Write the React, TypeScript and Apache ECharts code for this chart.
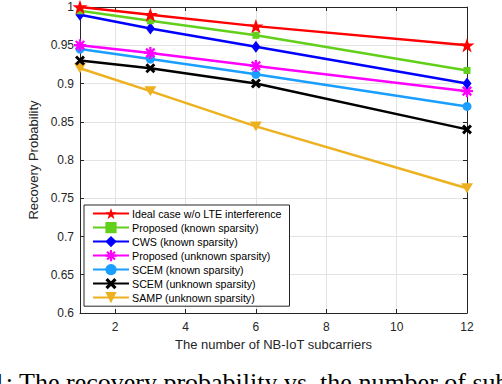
import React, { useEffect, useRef } from "react";
import * as echarts from "echarts";

// ---- data ----
const xValues = [1, 3, 6, 12];
const idealCase = [1.0, 0.99, 0.975, 0.95];
const proposedKnown = [0.995, 0.982, 0.963, 0.917];
const cwsKnown = [0.99, 0.972, 0.948, 0.9];
const proposedUnknown = [0.95, 0.94, 0.923, 0.89];
const scemKnown = [0.945, 0.932, 0.912, 0.87];
const scemUnknown = [0.93, 0.92, 0.9, 0.84];
const sampUnknown = [0.92, 0.89, 0.844, 0.763];

const seriesNames = [
  "Ideal case w/o LTE interference",
  "Proposed (known sparsity)",
  "CWS (known sparsity)",
  "Proposed (unknown sparsity)",
  "SCEM (known sparsity)",
  "SCEM (unknown sparsity)",
  "SAMP (unknown sparsity)",
];
const xTickValues = [2, 4, 6, 8, 10, 12];
const xAxisTitle = "The number of NB-IoT subcarriers";
const yAxisTitle = "Recovery Probability";
const captionText = "1: The recovery probability vs. the number of sub";

// ---- marker shapes ----
function starPath(): string {
  const pts: string[] = [];
  for (let i = 0; i < 10; i++) {
    const r = i % 2 === 0 ? 10 : 3.9;
    const a = -Math.PI / 2 + (i * Math.PI) / 5;
    pts.push(`${(r * Math.cos(a)).toFixed(3)},${(r * Math.sin(a)).toFixed(3)}`);
  }
  return "path://M" + pts.join("L") + "Z";
}
function barsPath(angles: number[], L: number, w: number): string {
  let d = "";
  for (const deg of angles) {
    const t = (deg * Math.PI) / 180;
    const c = Math.cos(t), s = Math.sin(t);
    const corners = [
      [L, w],
      [-L, w],
      [-L, -w],
      [L, -w],
    ].map(([x, y]) => `${(x * c - y * s).toFixed(3)},${(x * s + y * c).toFixed(3)}`);
    d += "M" + corners.join("L") + "Z";
  }
  return "path://" + d;
}
const STAR = starPath();
const ASTERISK = barsPath([0, 45, 90, 135], 10, 1.9);
const CROSS = barsPath([45, 135], 10, 2.6);
const TRI_DOWN = "path://M0,0L10,0L5,9Z";

const styles = [
  { data: idealCase, color: "#FF0000", symbol: STAR, size: 15 },
  { data: proposedKnown, color: "#62D01A", symbol: "rect", size: 7 },
  { data: cwsKnown, color: "#0000FF", symbol: "diamond", size: [9, 12] },
  { data: proposedUnknown, color: "#FF00FF", symbol: ASTERISK, size: 12 },
  { data: scemKnown, color: "#1A9EFF", symbol: "circle", size: 9 },
  { data: scemUnknown, color: "#000000", symbol: CROSS, size: 10 },
  { data: sampUnknown, color: "#EDB120", symbol: TRI_DOWN, size: [12, 11] },
];

const FONT = "Liberation Sans, Arial, sans-serif";
const AXIS_COLOR = "#262626";

export default function App() {
  const ref = useRef<HTMLDivElement>(null);

  useEffect(() => {
    document.body.style.margin = "0";
    if (!ref.current) return;
    const chart = echarts.init(ref.current, undefined, { renderer: "svg" });

    const baseX = {
      type: "value" as const,
      min: 1,
      max: 12,
      axisLine: { show: true, onZero: false, lineStyle: { color: AXIS_COLOR, width: 1 } },
      axisTick: { show: true, inside: true, length: 4, customValues: xTickValues, lineStyle: { color: AXIS_COLOR } },
    };
    const baseY = {
      type: "value" as const,
      min: 0.6,
      max: 1,
      interval: 0.05,
      axisLine: { show: true, onZero: false, lineStyle: { color: AXIS_COLOR, width: 1 } },
      axisTick: { show: true, inside: true, length: 4, lineStyle: { color: AXIS_COLOR } },
    };

    chart.setOption({
      animation: false,
      backgroundColor: "#ffffff",
      textStyle: { fontFamily: FONT },
      grid: { left: 80, right: 35, top: 7, bottom: 71, containLabel: false },
      xAxis: [
        {
          ...baseX,
          position: "bottom",
          name: xAxisTitle,
          nameLocation: "middle",
          nameGap: 23,
          nameTextStyle: { fontSize: 13, color: AXIS_COLOR, fontFamily: FONT },
          axisLabel: { show: true, customValues: xTickValues, fontSize: 12, color: AXIS_COLOR, margin: 8, fontFamily: FONT },
          splitLine: { show: true, lineStyle: { color: "#E3E3E3", width: 1 } },
        },
        {
          ...baseX,
          position: "top",
          axisLabel: { show: false, customValues: xTickValues },
          splitLine: { show: false },
        },
      ],
      yAxis: [
        {
          ...baseY,
          position: "left",
          name: yAxisTitle,
          nameLocation: "middle",
          nameGap: 32,
          nameTextStyle: { fontSize: 13, color: AXIS_COLOR, fontFamily: FONT },
          axisLabel: { show: true, fontSize: 12, color: AXIS_COLOR, margin: 6, fontFamily: FONT },
          splitLine: { show: true, lineStyle: { color: "#E3E3E3", width: 1 } },
        },
        {
          ...baseY,
          position: "right",
          axisLabel: { show: false },
          splitLine: { show: false },
        },
      ],
      legend: {
        show: true,
        orient: "vertical",
        left: 84,
        top: 205,
        itemWidth: 36,
        itemHeight: 14,
        itemGap: 2.8,
        padding: [3, 8, 3, 8],
        borderColor: AXIS_COLOR,
        borderWidth: 1,
        backgroundColor: "#ffffff",
        textStyle: { fontSize: 10.7, color: "#000000", fontFamily: FONT, padding: [0, 0, 0, -2] },
        data: seriesNames,
      },
      series: styles.map((s, i) => ({
        type: "line",
        name: seriesNames[i],
        xAxisIndex: 0,
        yAxisIndex: 0,
        data: xValues.map((x, j) => [x, s.data[j]]),
        symbol: s.symbol,
        symbolSize: s.size,
        symbolKeepAspect: true,
        showAllSymbol: true,
        clip: false,
        lineStyle: { color: s.color, width: 2.5 },
        itemStyle: { color: s.color, borderWidth: 0 },
        emphasis: { disabled: true },
        z: 10 - i,
      })),
      graphic: [
        {
          type: "text",
          x: -7.2,
          y: 382,
          style: {
            text: captionText,
            font: "26px 'Liberation Serif', 'Times New Roman', serif",
            fill: "#000000",
            textVerticalAlign: "middle",
            verticalAlign: "middle",
          },
        },
      ],
    });

    return () => {
      chart.dispose();
    };
  }, []);

  return <div ref={ref} style={{ width: 502, height: 384 }} />;
}
